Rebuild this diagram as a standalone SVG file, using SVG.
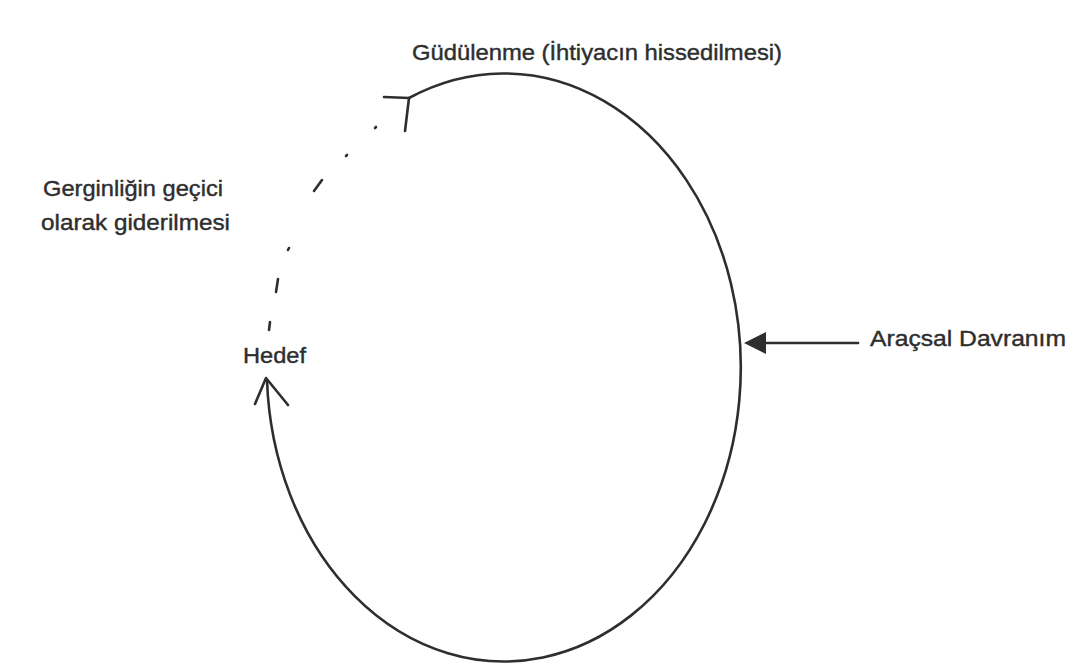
<svg xmlns="http://www.w3.org/2000/svg" width="1069" height="670" viewBox="0 0 1069 670">
<defs>
<style>
.t{font-family:"Liberation Sans",Arial,sans-serif;fill:#2e2e2e;stroke:#2e2e2e;stroke-width:0.4;font-size:22px}
.ln{fill:none;stroke:#2e2e2e;stroke-width:2.6;stroke-linecap:round;stroke-linejoin:round}
</style>
</defs>
<rect width="1069" height="670" fill="#ffffff"/>
<g id="connectors">
<path class="ln" d="M 409 98 A 237 294 0 1 1 267 380"/>
<polyline class="ln" points="255,404 266,378 288,405"/>
<polyline class="ln" points="384,97 409,98 405,131"/>
<g class="ln">
<line x1="269" y1="330" x2="270" y2="322"/>
<line x1="276" y1="292" x2="278" y2="279"/>
<line x1="288" y1="250" x2="289" y2="248"/>
<line x1="314" y1="191" x2="322" y2="180"/>
<line x1="346" y1="156" x2="347" y2="155"/>
<line x1="375" y1="128" x2="376" y2="127"/>
</g>
<line class="ln" x1="858" y1="343" x2="762" y2="343"/>
<path d="M744,343 L766,332 L766,354 z" fill="#2e2e2e"/>
</g>
<g id="node-gudulenme"><text class="t" x="412" y="60" textLength="370" lengthAdjust="spacingAndGlyphs">Güdülenme (İhtiyacın hissedilmesi)</text></g>
<g id="node-gerginlik">
<text class="t" x="43" y="196" textLength="180" lengthAdjust="spacingAndGlyphs">Gerginliğin geçici</text>
<text class="t" x="41" y="230" textLength="189" lengthAdjust="spacingAndGlyphs">olarak giderilmesi</text>
</g>
<g id="node-hedef"><text class="t" x="243" y="363" textLength="63" lengthAdjust="spacingAndGlyphs">Hedef</text></g>
<g id="node-aracsal"><text class="t" x="870" y="346" textLength="196" lengthAdjust="spacingAndGlyphs">Araçsal Davranım</text></g>
</svg>
